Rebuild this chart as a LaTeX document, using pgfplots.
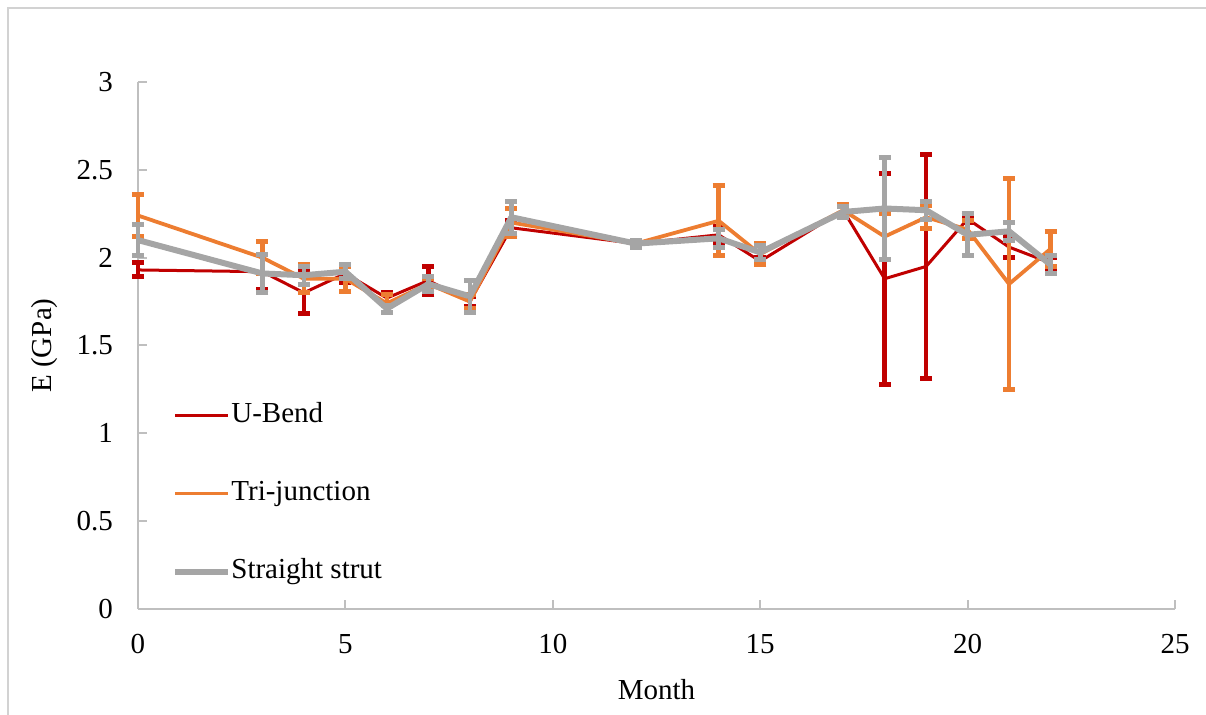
\documentclass[border=0pt]{standalone}
\usepackage{pgfplots}
\pgfplotsset{compat=1.18}
\usepackage{pgfplotstable}
\usepackage{fontspec}
\setmainfont{Liberation Serif}
\definecolor{ured}{HTML}{C00000}
\definecolor{torange}{HTML}{ED7D31}
\definecolor{sgrey}{HTML}{A5A5A5}
\definecolor{axgrey}{HTML}{BFBFBF}

\pgfplotstableread{
x y e
0 1.93 0.04
3 1.92 0.10
4 1.80 0.12
5 1.91 0.05
6 1.77 0.03
7 1.87 0.08
8 1.75 0.03
9 2.17 0.04
12 2.08 0.01
14 2.13 0.05
15 1.98 0.02
17 2.27 0.02
18 1.88 0.60
19 1.95 0.64
20 2.22 0.02
21 2.06 0.06
22 1.97 0.03
}\ubend

\pgfplotstableread{
x y e
0 2.24 0.12
3 2.00 0.09
4 1.88 0.08
5 1.88 0.07
6 1.74 0.05
7 1.85 0.03
8 1.75 0.04
9 2.20 0.08
12 2.08 0.01
14 2.21 0.20
15 2.02 0.06
17 2.27 0.03
18 2.12 0.13
19 2.23 0.065
20 2.16 0.05
21 1.85 0.60
22 2.05 0.10
}\trijunction

\pgfplotstableread{
x y e
0 2.10 0.09
3 1.91 0.11
4 1.90 0.05
5 1.92 0.04
6 1.71 0.02
7 1.85 0.04
8 1.78 0.09
9 2.23 0.09
12 2.08 0.02
14 2.11 0.05
15 2.03 0.04
17 2.26 0.03
18 2.28 0.29
19 2.27 0.05
20 2.13 0.12
21 2.15 0.05
22 1.96 0.05
}\straight

\begin{document}
\begin{tikzpicture}
\useasboundingbox (-69pt,-53pt) rectangle (534pt,304.5pt);
\begin{axis}[
  at={(0,0)}, anchor=south west,
  scale only axis,
  width=518.5pt, height=263.5pt,
  xmin=0, xmax=25, ymin=0, ymax=3,
  xtick={0,5,...,25},
  ytick={0,0.5,1,1.5,2,2.5,3},
  yticklabels={0,0.5,1,1.5,2,2.5,3},
  axis x line=bottom, axis y line=left,
  axis line style={-, draw=axgrey, line width=1pt},
  tick align=inside,
  major tick length=4.5pt,
  every tick/.style={draw=axgrey, line width=1pt},
  tick label style={font=\fontsize{14.5}{16}\selectfont, /pgf/number format/assume math mode=true},
  xticklabel style={yshift=-9pt},
  yticklabel style={xshift=-9pt},
  xlabel={Month},
  ylabel={E (GPa)},
  label style={font=\fontsize{14.5}{16}\selectfont},
  xlabel style={at={(axis description cs:0.5,-0.1537)}, anchor=center},
  ylabel style={at={(axis description cs:-0.0897,0.5)}, anchor=center},
  clip=false,
  legend cell align=left,
  legend style={draw=none, fill=none, at={(axis description cs:0,0)}, anchor=south west,
    xshift=17pt, yshift=12pt, inner sep=0pt,
    font=\fontsize{14.5}{16}\selectfont,
    row sep=26pt,
    nodes={inner sep=0pt, text height=10pt, text depth=3pt},
    /tikz/every odd column/.append style={column sep=0pt}},
  legend image code/.code={\draw[#1] (0pt,0pt) -- (26.5pt,0pt);},
  every axis plot/.append style={line join=round},
]
\addplot[ured, line width=1.5pt, no markers,
  error bars/.cd, y dir=both, y explicit,
  error bar style={line width=2.3pt, ured},
  error mark options={rotate=90, line width=2.5pt, mark size=3pt, ured}]
  table[x=x, y=y, y error=e] {\ubend};
\addlegendentry{U-Bend}
\addplot[torange, line width=1.9pt, no markers,
  error bars/.cd, y dir=both, y explicit,
  error bar style={line width=2.3pt, torange},
  error mark options={rotate=90, line width=2.5pt, mark size=3pt, torange}]
  table[x=x, y=y, y error=e] {\trijunction};
\addlegendentry{Tri-junction}
\addplot[sgrey, line width=3pt, no markers,
  error bars/.cd, y dir=both, y explicit,
  error bar style={line width=2.3pt, sgrey},
  error mark options={rotate=90, line width=2.5pt, mark size=3pt, sgrey}]
  table[x=x, y=y, y error=e] {\straight};
\addlegendentry{Straight strut}
\end{axis}
\draw[gray!35, line width=0.8pt] (-65pt,-60pt) rectangle (540pt,300.5pt);
\end{tikzpicture}
\end{document}
